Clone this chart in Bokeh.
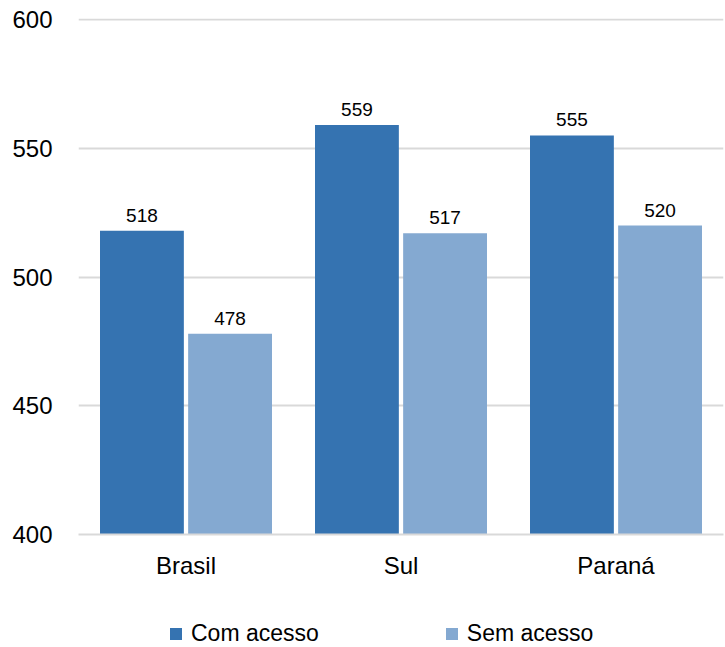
from bokeh.plotting import figure
from bokeh.layouts import column
from bokeh.models import ColumnDataSource, LabelSet, Legend, LegendItem, FactorRange
from bokeh.transform import dodge
from bokeh.core.properties import value
from bokeh.embed import file_html
from bokeh.resources import INLINE

categories = ["Brasil", "Sul", "Paraná"]
com_acesso = [518, 559, 555]
sem_acesso = [478, 517, 520]
series_names = ["Com acesso", "Sem acesso"]
y_ticks = [400, 450, 500, 550, 600]

COM = "#3573B1"
SEM = "#84A9D1"
FONT = "Liberation Sans"

src = ColumnDataSource(dict(cat=categories, com=com_acesso, sem=sem_acesso,
                            com_lbl=[str(v) for v in com_acesso],
                            sem_lbl=[str(v) for v in sem_acesso]))

xr = FactorRange(*categories)
p = figure(x_range=xr, y_range=(400, 600.4),
           frame_width=645, frame_height=516, output_backend="svg", toolbar_location=None,
           min_border_left=78, min_border_right=2, min_border_top=18, min_border_bottom=62)

r1 = p.vbar(x=dodge("cat", -0.205, range=xr), top="com", bottom=400, width=0.39,
            source=src, color=COM, line_color=None)
r2 = p.vbar(x=dodge("cat", 0.205, range=xr), top="sem", bottom=400, width=0.39,
            source=src, color=SEM, line_color=None)

for col, off in (("com", -0.205), ("sem", 0.205)):
    p.add_layout(LabelSet(x=dodge("cat", off, range=xr), y=col, text=col + "_lbl",
                          source=src, text_align="center", text_baseline="alphabetic",
                          y_offset=9, text_font=value(FONT), text_font_size="19px",
                          text_color="#000000"))

p.outline_line_color = None
p.background_fill_color = "white"
p.border_fill_color = "white"

p.xgrid.grid_line_color = None
p.ygrid.grid_line_color = "#d9d9d9"
p.ygrid.grid_line_width = 2

p.yaxis.ticker = y_ticks
p.yaxis.axis_line_color = None
p.yaxis.major_tick_line_color = None
p.yaxis.minor_tick_line_color = None
p.yaxis.major_tick_out = 0
p.yaxis.major_tick_in = 0
p.yaxis.minor_tick_out = 0
p.yaxis.major_label_standoff = 26
p.yaxis.major_label_text_font = FONT
p.yaxis.major_label_text_font_size = "24px"
p.yaxis.major_label_text_color = "#000000"

p.xaxis.axis_line_color = "#d9d9d9"
p.xaxis.axis_line_width = 2
p.xaxis.major_tick_line_color = None
p.xaxis.minor_tick_line_color = None
p.xaxis.major_tick_out = 0
p.xaxis.major_tick_in = 0
p.xaxis.minor_tick_out = 0
p.xaxis.major_label_standoff = 17
p.xaxis.major_label_text_font = FONT
p.xaxis.major_label_text_font_size = "24px"
p.xaxis.major_label_text_color = "#000000"

# legend strip below the chart (its frame is aligned with the chart's frame)
p2 = figure(width=725, height=51, x_range=xr, y_range=(0, 1),
            x_axis_type=None, y_axis_type=None, output_backend="svg", toolbar_location=None,
            min_border_left=78, min_border_right=2, min_border_top=0, min_border_bottom=0)
p2.outline_line_color = None
p2.xgrid.grid_line_color = None
p2.ygrid.grid_line_color = None
# same series, hairline-thin and outside this strip's view, only to give the legend its swatches
k1 = p2.vbar(x=dodge("cat", -0.205, range=xr), top="com", bottom=400, width=0.0001,
             source=src, color=COM, line_color=None)
k2 = p2.vbar(x=dodge("cat", 0.205, range=xr), top="sem", bottom=400, width=0.0001,
             source=src, color=SEM, line_color=None)

legend = Legend(items=[LegendItem(label=series_names[0], renderers=[k1]),
                       LegendItem(label=series_names[1], renderers=[k2])],
                orientation="horizontal", location=(90, 0),
                glyph_width=15, glyph_height=15, label_standoff=8, spacing=125,
                padding=0, margin=0, border_line_color=None,
                label_text_font=FONT, label_text_font_size="23px",
                label_text_color="#000000", background_fill_alpha=0)
p2.add_layout(legend, "center")

layout = column(p, p2, spacing=0)
open("out.html", "w").write(file_html(layout, INLINE))
